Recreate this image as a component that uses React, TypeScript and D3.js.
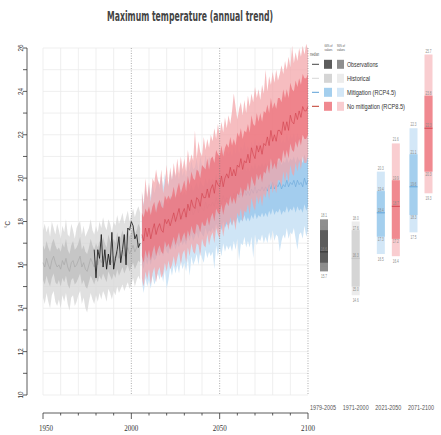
import React from 'react';
import * as d3 from 'd3';

// ---------- DATA ----------
const HIST_START = 1950;
const histMed = [
  16.1, 15.9, 16.3, 16.0, 15.8, 16.2, 16.4, 16.1, 15.9, 16.0,
  15.8, 16.2, 16.0, 16.3, 15.9, 15.7, 16.1, 16.2, 15.9, 16.0,
  16.2, 16.4, 15.9, 16.1, 15.8, 15.7, 16.0, 16.3, 16.1, 15.9,
  16.2, 16.0, 16.3, 16.1, 16.4, 16.2, 16.0, 16.5, 16.3, 16.1,
  16.4, 16.2, 16.6, 16.3, 16.5, 16.7, 16.4, 16.6, 16.8, 16.5,
  16.7, 16.9, 16.6, 16.8, 17.0, 16.9,
];
const histHi90 = [
  17.6, 17.9, 17.5, 17.8, 17.3, 18.0, 17.7, 17.4, 17.9, 17.6,
  17.2, 17.8, 17.5, 18.1, 17.4, 17.3, 17.9, 17.6, 17.2, 17.7,
  17.9, 18.0, 17.4, 17.8, 17.3, 17.5, 17.7, 18.1, 17.6, 17.4,
  17.8, 17.5, 18.0, 17.7, 18.2, 17.8, 17.6, 18.1, 17.9, 17.5,
  18.0, 17.8, 18.3, 17.9, 18.1, 18.4, 17.9, 18.2, 18.5, 18.0,
  18.3, 18.6, 18.2, 18.5, 18.7, 18.4,
];
const histHi66 = [
  16.9, 16.7, 17.1, 16.8, 16.6, 17.0, 17.2, 16.9, 16.7, 16.8,
  16.6, 17.0, 16.8, 17.2, 16.7, 16.5, 16.9, 17.1, 16.7, 16.8,
  17.0, 17.3, 16.7, 16.9, 16.6, 16.5, 16.8, 17.2, 16.9, 16.7,
  17.0, 16.8, 17.1, 16.9, 17.3, 17.0, 16.8, 17.4, 17.1, 16.9,
  17.2, 17.0, 17.5, 17.1, 17.3, 17.6, 17.2, 17.4, 17.7, 17.3,
  17.5, 17.8, 17.4, 17.6, 17.9, 17.7,
];
const histLo66 = [
  15.3, 15.1, 15.5, 15.2, 15.0, 15.4, 15.6, 15.2, 15.1, 15.3,
  15.0, 15.4, 15.2, 15.5, 15.1, 14.9, 15.3, 15.4, 15.1, 15.2,
  15.4, 15.6, 15.1, 15.3, 15.0, 14.9, 15.2, 15.5, 15.3, 15.1,
  15.4, 15.2, 15.5, 15.3, 15.6, 15.4, 15.2, 15.7, 15.5, 15.3,
  15.6, 15.4, 15.8, 15.5, 15.7, 15.9, 15.6, 15.8, 16.0, 15.7,
  15.9, 16.1, 15.8, 16.0, 16.2, 16.1,
];
const histLo90 = [
  14.5, 14.2, 14.7, 14.3, 14.0, 14.6, 14.8, 14.3, 14.1, 14.4,
  14.0, 14.6, 14.3, 14.7, 14.2, 13.9, 14.5, 14.6, 14.1, 14.3,
  14.6, 14.8, 14.2, 14.5, 14.0, 13.8, 14.3, 14.7, 14.4, 14.2,
  14.6, 14.3, 14.7, 14.4, 14.8, 14.6, 14.3, 14.9, 14.7, 14.4,
  14.8, 14.6, 15.0, 14.7, 14.9, 15.1, 14.8, 15.0, 15.2, 14.9,
  15.1, 15.4, 15.0, 15.3, 15.5, 15.3,
];

const OBS_START = 1979;
const obsValues = [
  16.7, 15.4, 16.7, 16.3, 17.4, 15.9, 16.7, 15.8, 16.5, 16.0,
  17.5, 15.8, 16.3, 16.7, 17.3, 16.1, 16.7, 17.4, 16.0, 17.7,
  17.6, 18.0, 17.8, 17.2, 17.4, 16.8, 17.0,
];

const RCP_START = 2006;
const rcp85Med = [
  17.4, 17.1, 17.7, 17.3, 17.7, 17.2, 17.6, 17.9, 17.4, 17.7,
  17.9, 17.6, 17.5, 18.1, 17.9, 18.1, 17.8, 18.1, 18.4, 18.0,
  18.3, 18.6, 18.1, 18.4, 18.6, 18.2, 18.8, 18.5, 19.0, 18.7,
  18.6, 19.1, 19.0, 18.7, 19.3, 19.1, 19.1, 19.5, 19.1, 19.5,
  19.7, 19.3, 19.9, 19.7, 19.6, 20.1, 19.6, 20.0, 20.2, 20.0,
  20.5, 20.1, 20.4, 20.1, 20.6, 20.5, 20.9, 20.4, 20.8, 20.7,
  21.1, 20.7, 21.4, 21.1, 20.9, 21.5, 21.2, 21.5, 21.1, 21.6,
  21.5, 21.9, 21.5, 22.2, 21.7, 22.0, 21.7, 22.2, 22.2, 22.0,
  22.6, 22.2, 22.6, 22.2, 22.9, 22.6, 22.5, 23.0, 22.7, 23.1,
  22.8, 23.3, 23.1, 23.1, 23.3,
];
const rcp85Hi90 = [
  19.4, 18.7, 20.0, 19.1, 19.8, 18.9, 20.0, 19.8, 20.4, 19.9,
  19.7, 20.4, 19.3, 19.8, 20.6, 19.6, 20.5, 19.9, 20.7, 20.1,
  20.9, 20.2, 21.0, 20.4, 20.9, 20.3, 21.3, 20.7, 21.1, 20.8,
  22.2, 20.9, 21.7, 21.2, 21.0, 21.9, 21.3, 21.8, 21.4, 22.0,
  21.7, 22.3, 21.8, 22.5, 22.0, 22.6, 22.1, 22.8, 22.3, 22.9,
  22.5, 23.1, 23.9, 23.3, 22.7, 23.2, 23.5, 22.9, 23.6, 23.0,
  23.8, 23.3, 23.9, 23.5, 24.2, 23.7, 24.1, 23.6, 24.3, 23.9,
  25.0, 24.0, 24.7, 24.3, 24.9, 24.4, 25.0, 24.5, 24.8, 25.2,
  24.8, 25.4, 25.0, 25.6, 25.1, 26.1, 25.3, 25.8, 25.4, 26.0,
  25.6, 26.1, 25.7, 26.2, 25.9,
];
const rcp85Hi66 = [
  18.4, 18.2, 18.6, 18.4, 18.7, 18.3, 18.7, 18.9, 18.4, 18.8,
  19.0, 18.7, 18.6, 19.2, 19.0, 19.2, 19.0, 19.2, 19.6, 19.1,
  19.5, 19.8, 19.3, 19.6, 19.9, 19.4, 20.1, 19.7, 20.3, 20.0,
  19.9, 20.4, 20.3, 20.0, 20.6, 20.5, 20.4, 20.9, 20.4, 20.9,
  21.0, 20.7, 21.3, 21.1, 21.0, 21.5, 21.0, 21.4, 21.6, 21.4,
  21.9, 21.5, 21.8, 21.5, 22.1, 21.9, 22.3, 21.8, 22.2, 22.1,
  22.5, 22.1, 22.9, 22.5, 22.4, 23.0, 22.6, 23.0, 22.6, 23.1,
  23.0, 23.4, 23.0, 23.7, 23.2, 23.5, 23.2, 23.7, 23.7, 23.5,
  24.1, 23.7, 24.1, 23.7, 24.4, 24.1, 24.0, 24.5, 24.2, 24.6,
  24.3, 24.8, 24.6, 24.6, 24.8,
];
const rcp85Lo66 = [
  16.4, 16.1, 16.7, 16.3, 16.7, 16.2, 16.6, 16.9, 16.4, 16.7,
  16.9, 16.6, 16.5, 17.1, 16.8, 17.0, 16.7, 17.0, 17.3, 16.9,
  17.2, 17.5, 17.0, 17.3, 17.5, 17.1, 17.6, 17.3, 17.8, 17.5,
  17.4, 17.9, 17.8, 17.5, 18.0, 17.8, 17.8, 18.2, 17.8, 18.2,
  18.4, 18.0, 18.6, 18.4, 18.3, 18.8, 18.3, 18.7, 18.9, 18.7,
  19.2, 18.8, 19.1, 18.8, 19.3, 19.2, 19.6, 19.1, 19.5, 19.4,
  19.8, 19.4, 20.1, 19.8, 19.6, 20.2, 19.9, 20.2, 19.8, 20.3,
  20.2, 20.6, 20.2, 20.9, 20.4, 20.7, 20.4, 20.9, 20.9, 20.7,
  21.3, 20.9, 21.3, 20.9, 21.6, 21.3, 21.2, 21.7, 21.4, 21.8,
  21.5, 22.0, 21.8, 21.8, 22.0,
];
const rcp85Lo90 = [
  15.4, 15.0, 15.7, 15.3, 15.8, 15.1, 15.6, 15.9, 15.2, 15.7,
  15.9, 15.4, 15.6, 16.1, 15.7, 16.2, 15.8, 16.0, 16.4, 15.9,
  16.3, 16.6, 16.0, 16.5, 16.7, 16.1, 16.8, 16.4, 17.0, 16.6,
  16.5, 17.0, 16.9, 16.4, 17.2, 16.9, 16.8, 17.4, 16.9, 17.3,
  17.5, 17.0, 17.7, 17.4, 17.2, 17.9, 17.3, 17.8, 18.0, 17.6,
  18.2, 17.8, 18.1, 17.6, 18.4, 18.2, 18.6, 18.0, 18.5, 18.4,
  18.8, 18.3, 19.1, 18.7, 18.5, 19.2, 18.8, 19.2, 18.7, 19.3,
  19.1, 19.6, 19.0, 19.9, 19.3, 19.7, 19.3, 19.9, 19.9, 19.6,
  20.3, 19.8, 20.3, 19.8, 20.6, 20.2, 20.1, 20.7, 20.3, 20.8,
  20.4, 21.0, 20.7, 20.7, 21.0,
];

const rcp45Med = [
  17.3, 17.0, 17.5, 17.2, 17.5, 17.2, 17.6, 17.4, 17.5, 17.8,
  17.6, 17.9, 17.6, 18.0, 17.8, 17.7, 18.1, 17.9, 18.2, 17.9,
  18.2, 18.0, 18.4, 18.1, 18.3, 18.1, 18.5, 18.3, 18.6, 18.3,
  18.5, 18.7, 18.4, 18.8, 18.6, 18.5, 18.9, 18.6, 18.8, 18.7,
  18.9, 18.7, 19.1, 18.8, 19.0, 18.8, 19.2, 18.9, 19.1, 19.0,
  19.2, 19.0, 19.3, 19.1, 19.4, 19.1, 19.3, 19.2, 19.5, 19.2,
  19.4, 19.2, 19.5, 19.3, 19.6, 19.3, 19.5, 19.4, 19.6, 19.4,
  19.6, 19.4, 19.7, 19.5, 19.8, 19.5, 19.7, 19.6, 19.8, 19.5,
  19.7, 19.6, 19.9, 19.6, 19.8, 19.7, 19.9, 19.6, 19.9, 19.7,
  19.8, 19.6, 20.0, 19.7, 19.9,
];
const rcp45Hi90 = [
  19.3, 18.8, 19.6, 19.0, 19.7, 19.1, 19.8, 19.3, 19.6, 20.0,
  19.5, 20.1, 19.6, 20.2, 19.8, 19.7, 20.3, 19.9, 20.4, 20.0,
  20.3, 19.9, 20.6, 20.1, 20.4, 20.0, 20.7, 20.3, 20.8, 20.4,
  20.5, 20.9, 20.3, 21.0, 20.6, 20.5, 21.1, 20.6, 21.0, 20.8,
  21.0, 20.6, 21.3, 20.8, 21.2, 20.8, 21.4, 20.9, 21.3, 21.1,
  21.3, 21.0, 21.5, 21.1, 21.6, 21.1, 21.5, 21.3, 21.7, 21.3,
  21.5, 21.2, 21.7, 21.4, 21.8, 21.3, 21.7, 21.5, 21.8, 21.5,
  21.7, 21.4, 21.9, 21.6, 22.0, 21.6, 21.9, 21.7, 22.0, 21.6,
  21.8, 21.6, 22.1, 21.7, 22.0, 21.8, 22.1, 21.7, 22.1, 21.8,
  22.0, 21.7, 22.2, 21.8, 22.0,
];
const rcp45Hi66 = [
  18.3, 18.1, 18.5, 18.3, 18.6, 18.2, 18.7, 18.4, 18.6, 18.9,
  18.7, 19.0, 18.7, 19.1, 18.9, 18.8, 19.2, 19.0, 19.3, 19.0,
  19.3, 19.1, 19.5, 19.2, 19.4, 19.2, 19.6, 19.4, 19.7, 19.4,
  19.6, 19.8, 19.5, 19.9, 19.7, 19.6, 20.0, 19.7, 20.0, 19.8,
  20.0, 19.8, 20.2, 19.9, 20.1, 19.9, 20.3, 20.0, 20.2, 20.1,
  20.3, 20.1, 20.4, 20.2, 20.5, 20.2, 20.4, 20.3, 20.6, 20.3,
  20.5, 20.3, 20.6, 20.4, 20.7, 20.4, 20.6, 20.5, 20.7, 20.5,
  20.7, 20.5, 20.8, 20.6, 20.9, 20.6, 20.8, 20.7, 20.9, 20.6,
  20.8, 20.7, 21.0, 20.7, 20.9, 20.8, 21.0, 20.7, 21.0, 20.8,
  20.9, 20.7, 21.1, 20.8, 21.0,
];
const rcp45Lo66 = [
  16.1, 15.8, 16.3, 16.0, 16.3, 16.0, 16.4, 16.2, 16.3, 16.6,
  16.4, 16.7, 16.4, 16.8, 16.6, 16.5, 16.9, 16.7, 17.0, 16.7,
  17.0, 16.8, 17.2, 16.9, 17.1, 16.9, 17.3, 17.1, 17.4, 17.1,
  17.3, 17.5, 17.2, 17.6, 17.4, 17.3, 17.7, 17.4, 17.6, 17.5,
  17.7, 17.5, 17.9, 17.6, 17.8, 17.6, 18.0, 17.7, 17.9, 17.8,
  18.0, 17.8, 18.1, 17.9, 18.2, 17.9, 18.1, 18.0, 18.3, 18.0,
  18.2, 18.0, 18.3, 18.1, 18.4, 18.1, 18.3, 18.2, 18.4, 18.2,
  18.4, 18.2, 18.5, 18.3, 18.6, 18.3, 18.5, 18.4, 18.6, 18.3,
  18.5, 18.4, 18.7, 18.4, 18.6, 18.5, 18.7, 18.4, 18.7, 18.5,
  18.6, 18.4, 18.8, 18.5, 18.7,
];
const rcp45Lo90 = [
  15.2, 14.7, 15.4, 15.0, 15.3, 14.9, 15.5, 15.1, 15.3, 15.6,
  15.3, 15.7, 15.2, 15.8, 14.9, 15.3, 15.9, 15.5, 16.0, 15.6,
  16.0, 15.6, 16.2, 15.8, 16.1, 15.7, 16.3, 15.5, 16.4, 16.0,
  16.2, 16.5, 16.0, 16.6, 16.3, 16.1, 16.7, 16.3, 16.6, 16.4,
  16.6, 15.8, 16.9, 16.4, 16.8, 16.4, 17.0, 16.6, 16.9, 16.7,
  16.9, 16.6, 17.1, 16.7, 17.2, 16.2, 17.0, 16.9, 17.3, 16.8,
  17.1, 16.8, 17.3, 16.3, 17.4, 16.9, 17.2, 17.1, 17.4, 17.0,
  17.3, 17.0, 17.5, 17.1, 17.6, 17.1, 17.4, 17.3, 16.6, 17.1,
  17.4, 17.2, 17.7, 17.2, 17.5, 17.4, 17.7, 17.2, 16.7, 17.4,
  17.5, 17.2, 17.8, 17.3, 17.6,
];

// Period summaries: [p5, p17, median, p83, p95]
const periods = ['1979-2005', '1971-2000', '2021-2050', '2071-2100'];
const boxObs = [15.7, 16.1, 16.6, 17.6, 18.1];
const boxHist = [14.6, 15.0, 16.3, 17.6, 18.0];
const boxRcp45Mid = [16.5, 17.3, 18.4, 19.4, 20.3];
const boxRcp85Mid = [16.4, 17.2, 18.7, 19.9, 21.6];
const boxRcp45End = [17.5, 18.3, 19.6, 21.1, 22.3];
const boxRcp85End = [19.3, 20.3, 22.3, 23.8, 25.7];

const legendLabels = ['Observations', 'Historical', 'Mitigation (RCP4.5)', 'No mitigation (RCP8.5)'];
const yTickLabels = [10, 12, 14, 16, 18, 20, 22, 24, 26];
const xTickLabels = [1950, 2000, 2050, 2100];

// ---------- STYLE ----------
const W = 441;
const H = 435;
const C = {
  obs: { outer: '#8e8e8e', inner: '#5c5c5c', med: '#2e2e2e' },
  hist: { outer: '#ececec', inner: '#d5d5d5', med: '#c2c2c2' },
  r45: { outer: '#d3e7f7', inner: '#a4cfee', med: '#5a9fd6' },
  r85: { outer: '#f9cdd0', inner: '#f08990', med: '#cf3d4a' },
};

const x = d3.scaleLinear().domain([1950, 2100]).range([43, 308]);
const y = d3.scaleLinear().domain([10, 26]).range([395, 48]);
const colX = d3.scalePoint<string>().domain(periods).range([323, 421]);

function band(start: number, lo: number[], hi: number[]) {
  return d3
    .area<number>()
    .x((_, i) => x(start + i))
    .y0((_, i) => y(lo[i]))
    .y1((_, i) => y(hi[i]))(lo) as string;
}
function line(start: number, v: number[]) {
  return d3
    .line<number>()
    .x((_, i) => x(start + i))
    .y((d) => y(d))(v) as string;
}

const Txt = (p: any) => (
  <text
    x={p.x}
    y={p.y}
    fontSize={p.size}
    textAnchor={p.anchor || 'middle'}
    fill={p.fill || '#333'}
    fontFamily={p.font || 'Liberation Sans, Arial, sans-serif'}
    fontWeight={p.weight || 'normal'}
    textLength={p.w}
    lengthAdjust="spacingAndGlyphs"
  >
    {p.children}
  </text>
);

function Box({ cx, v, col }: { cx: number; v: number[]; col: any }) {
  const w = 8;
  const [p5, p17, med, p83, p95] = v;
  const lab = '#8a8a8a';
  return (
    <g>
      <rect x={cx - w / 2} y={y(p95)} width={w} height={y(p5) - y(p95)} fill={col.outer} />
      <rect x={cx - w / 2} y={y(p83)} width={w} height={y(p17) - y(p83)} fill={col.inner} />
      <line x1={cx - w / 2} x2={cx + w / 2} y1={y(med)} y2={y(med)} stroke={col.med} strokeWidth={0.9} />
      <Txt x={cx} y={y(p95) - 2} size={5} w={6} fill={lab}>{p95.toFixed(1)}</Txt>
      <Txt x={cx} y={y(p83) - 0.5} size={5} w={6} fill={lab}>{p83.toFixed(1)}</Txt>
      <Txt x={cx} y={y(med) - 1} size={5} w={6} fill={lab}>{med.toFixed(1)}</Txt>
      <Txt x={cx} y={y(p17) + 4.5} size={5} w={6} fill={lab}>{p17.toFixed(1)}</Txt>
      <Txt x={cx} y={y(p5) + 6.5} size={5} w={6} fill={lab}>{p5.toFixed(1)}</Txt>
    </g>
  );
}

export default function App() {
  const gridYears = d3.range(1950, 2101, 10);
  const gridTemps = d3.range(10, 27, 1);
  const legendCols = [C.obs, C.hist, C.r45, C.r85];
  const legendMed = ['#444', '#d8d8d8', '#5a9fd6', '#c0392b'];
  const legendW = [31, 23, 49, 58];
  return (
    <svg
      width={W}
      height={H}
      style={{ position: 'absolute', left: 0, top: 0, background: '#fff' }}
    >
      {/* title */}
      <Txt x={190} y={21} size={13.5} w={166} weight="bold" fill="#444" font="DejaVu Sans, sans-serif">
        Maximum temperature (annual trend)
      </Txt>

      {/* grid */}
      <g>
        {gridTemps.map((t) => (
          <line key={'h' + t} x1={x(1950)} x2={x(2100)} y1={y(t)} y2={y(t)} stroke="#ebebeb" strokeWidth={0.8} />
        ))}
        {gridYears.map((yr) =>
          yr === 2000 || yr === 2050 || yr === 2100 ? null : (
            <line key={'v' + yr} x1={x(yr)} x2={x(yr)} y1={y(26)} y2={y(10)} stroke="#ebebeb" strokeWidth={0.8} />
          )
        )}
      </g>

      {/* historical */}
      <path d={band(HIST_START, histLo90, histHi90)} fill={C.hist.inner} opacity={0.75} />
      <path d={band(HIST_START, histLo66, histHi66)} fill="#bdbdbd" opacity={0.75} />
      <path d={line(HIST_START, histMed)} fill="none" stroke="#a9a9a9" strokeWidth={0.7} />

      {/* RCP4.5 */}
      <path d={band(RCP_START, rcp45Lo90, rcp45Hi90)} fill="#cfe5f6" />
      <path d={band(RCP_START, rcp45Lo66, rcp45Hi66)} fill="#a3cdee" />
      <path d={line(RCP_START, rcp45Med)} fill="none" stroke="#6aa6d8" strokeWidth={0.6} />

      {/* RCP8.5 */}
      <path d={band(RCP_START, rcp85Lo90, rcp85Hi90)} fill="#f3a3a8" opacity={0.72} />
      <path d={band(RCP_START, rcp85Lo66, rcp85Hi66)} fill="#ec6c76" opacity={0.7} />
      <path d={line(RCP_START, rcp85Med)} fill="none" stroke="#d0404c" strokeWidth={0.6} />

      {/* observations */}
      <path d={line(OBS_START, obsValues)} fill="none" stroke="#111" strokeWidth={0.8} />

      {/* dotted verticals */}
      {[2000, 2050, 2100].map((yr) => (
        <line key={'d' + yr} x1={x(yr)} x2={x(yr)} y1={y(26)} y2={y(10)} stroke="#777" strokeWidth={0.6} strokeDasharray="1,1.5" />
      ))}

      {/* y axis */}
      <g>
        <line x1={27} x2={27} y1={y(26)} y2={y(10)} stroke="#333" strokeWidth={0.8} />
        {gridTemps.map((t) => (
          <line key={'yt' + t} x1={23} x2={27} y1={y(t)} y2={y(t)} stroke="#333" strokeWidth={0.8} />
        ))}
        {yTickLabels.map((t) => (
          <g key={'yl' + t} transform={`translate(22.5,${y(t)}) rotate(-90)`}>
            <Txt x={0} y={0} size={8} w={7} fill="#333">{String(t)}</Txt>
          </g>
        ))}
        <g transform={`translate(10,${y(18) + 3}) rotate(-90)`}>
          <Txt x={0} y={0} size={8} w={7} fill="#333">°C</Txt>
        </g>
      </g>

      {/* x axis */}
      <g>
        <line x1={x(1950)} x2={x(2100)} y1={413} y2={413} stroke="#333" strokeWidth={0.8} />
        {gridYears.map((yr) => (
          <line
            key={'xt' + yr}
            x1={x(yr)}
            x2={x(yr)}
            y1={413}
            y2={xTickLabels.includes(yr) ? 419 : 415.5}
            stroke="#333"
            strokeWidth={0.8}
          />
        ))}
        {xTickLabels.map((yr) => (
          <Txt key={'xl' + yr} x={x(yr) + (yr === 1950 ? 3 : 0)} y={431} size={8} w={14} fill="#333" font="Liberation Serif, serif">
            {String(yr)}
          </Txt>
        ))}
      </g>

      {/* period boxes */}
      <Box cx={colX(periods[0])! + 1} v={boxObs} col={C.obs} />
      <Box cx={colX(periods[1])!} v={boxHist} col={C.hist} />
      <Box cx={colX(periods[2])! - 7.5} v={boxRcp45Mid} col={C.r45} />
      <Box cx={colX(periods[2])! + 7.5} v={boxRcp85Mid} col={C.r85} />
      <Box cx={colX(periods[3])! - 7.5} v={boxRcp45End} col={C.r45} />
      <Box cx={colX(periods[3])! + 7.5} v={boxRcp85End} col={C.r85} />
      {periods.map((p) => (
        <Txt key={p} x={colX(p)!} y={410} size={7} w={26} fill="#555">{p}</Txt>
      ))}

      {/* legend */}
      <g>
        <Txt x={314.5} y={56} size={4.5} w={9} fill="#555">median</Txt>
        <Txt x={328.5} y={46.5} size={4.2} w={8} fill="#555">66% of</Txt>
        <Txt x={328.5} y={51} size={4.2} w={8} fill="#555">values</Txt>
        <Txt x={341} y={46.5} size={4.2} w={8} fill="#555">90% of</Txt>
        <Txt x={341} y={51} size={4.2} w={8} fill="#555">values</Txt>
        {legendLabels.map((lab, i) => {
          const cy = 64.3 + i * 14;
          return (
            <g key={lab}>
              <line x1={312} x2={319} y1={cy} y2={cy} stroke={legendMed[i]} strokeWidth={1} />
              <rect x={324} y={cy - 4.5} width={8} height={9} fill={legendCols[i].inner} />
              <rect x={337} y={cy - 4.5} width={7} height={9} fill={legendCols[i].outer} />
              <Txt x={347} y={cy + 2.8} size={8} w={legendW[i]} anchor="start" fill="#333">{lab}</Txt>
            </g>
          );
        })}
      </g>
    </svg>
  );
}
